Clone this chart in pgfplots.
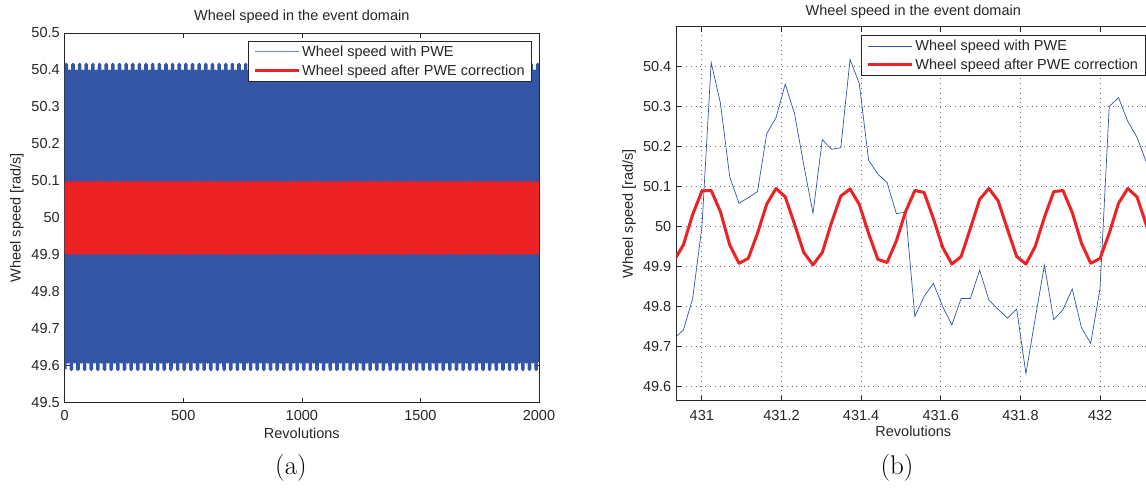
\documentclass[border=0pt]{standalone}
\usepackage{pgfplots}
\pgfplotsset{compat=1.18}
\usepackage{pgfplotstable}
\usepackage{fontspec}
\newfontfamily\arial{Liberation Sans}

\definecolor{pweblue}{RGB}{52,84,165}
\definecolor{pwelight}{RGB}{100,135,210}
\definecolor{corrred}{RGB}{236,34,36}
\definecolor{txt}{RGB}{38,38,38}

% Full run: the wheel speed swings between its extremes every few revolutions
% (x = revolutions, pwe = measured speed, corr = speed after PWE correction)
\pgfplotstableread[row sep=\\]{
x pwe corr\\
0 49.59 49.904\\ 7 50.415 50.096\\ 14 49.61 49.904\\ 21 50.397 50.096\\
28 49.59 49.904\\ 35 50.415 50.096\\ 42 49.61 49.904\\ 49 50.397 50.096\\
56 49.59 49.904\\ 63 50.415 50.096\\ 70 49.61 49.904\\ 77 50.397 50.096\\
84 49.59 49.904\\ 91 50.415 50.096\\ 98 49.61 49.904\\ 105 50.397 50.096\\
112 49.59 49.904\\ 119 50.415 50.096\\ 126 49.61 49.904\\ 133 50.397 50.096\\
140 49.59 49.904\\ 147 50.415 50.096\\ 154 49.61 49.904\\ 161 50.397 50.096\\
168 49.59 49.904\\ 175 50.415 50.096\\ 182 49.61 49.904\\ 189 50.397 50.096\\
196 49.59 49.904\\ 203 50.415 50.096\\ 210 49.61 49.904\\ 217 50.397 50.096\\
224 49.59 49.904\\ 231 50.415 50.096\\ 238 49.61 49.904\\ 245 50.397 50.096\\
252 49.59 49.904\\ 259 50.415 50.096\\ 266 49.61 49.904\\ 273 50.397 50.096\\
280 49.59 49.904\\ 287 50.415 50.096\\ 294 49.61 49.904\\ 301 50.397 50.096\\
308 49.59 49.904\\ 315 50.415 50.096\\ 322 49.61 49.904\\ 329 50.397 50.096\\
336 49.59 49.904\\ 343 50.415 50.096\\ 350 49.61 49.904\\ 357 50.397 50.096\\
364 49.59 49.904\\ 371 50.415 50.096\\ 378 49.61 49.904\\ 385 50.397 50.096\\
392 49.59 49.904\\ 399 50.415 50.096\\ 406 49.61 49.904\\ 413 50.397 50.096\\
420 49.59 49.904\\ 427 50.415 50.096\\ 434 49.61 49.904\\ 441 50.397 50.096\\
448 49.59 49.904\\ 455 50.415 50.096\\ 462 49.61 49.904\\ 469 50.397 50.096\\
476 49.59 49.904\\ 483 50.415 50.096\\ 490 49.61 49.904\\ 497 50.397 50.096\\
504 49.59 49.904\\ 511 50.415 50.096\\ 518 49.61 49.904\\ 525 50.397 50.096\\
532 49.59 49.904\\ 539 50.415 50.096\\ 546 49.61 49.904\\ 553 50.397 50.096\\
560 49.59 49.904\\ 567 50.415 50.096\\ 574 49.61 49.904\\ 581 50.397 50.096\\
588 49.59 49.904\\ 595 50.415 50.096\\ 602 49.61 49.904\\ 609 50.397 50.096\\
616 49.59 49.904\\ 623 50.415 50.096\\ 630 49.61 49.904\\ 637 50.397 50.096\\
644 49.59 49.904\\ 651 50.415 50.096\\ 658 49.61 49.904\\ 665 50.397 50.096\\
672 49.59 49.904\\ 679 50.415 50.096\\ 686 49.61 49.904\\ 693 50.397 50.096\\
700 49.59 49.904\\ 707 50.415 50.096\\ 714 49.61 49.904\\ 721 50.397 50.096\\
728 49.59 49.904\\ 735 50.415 50.096\\ 742 49.61 49.904\\ 749 50.397 50.096\\
756 49.59 49.904\\ 763 50.415 50.096\\ 770 49.61 49.904\\ 777 50.397 50.096\\
784 49.59 49.904\\ 791 50.415 50.096\\ 798 49.61 49.904\\ 805 50.397 50.096\\
812 49.59 49.904\\ 819 50.415 50.096\\ 826 49.61 49.904\\ 833 50.397 50.096\\
840 49.59 49.904\\ 847 50.415 50.096\\ 854 49.61 49.904\\ 861 50.397 50.096\\
868 49.59 49.904\\ 875 50.415 50.096\\ 882 49.61 49.904\\ 889 50.397 50.096\\
896 49.59 49.904\\ 903 50.415 50.096\\ 910 49.61 49.904\\ 917 50.397 50.096\\
924 49.59 49.904\\ 931 50.415 50.096\\ 938 49.61 49.904\\ 945 50.397 50.096\\
952 49.59 49.904\\ 959 50.415 50.096\\ 966 49.61 49.904\\ 973 50.397 50.096\\
980 49.59 49.904\\ 987 50.415 50.096\\ 994 49.61 49.904\\ 1001 50.397 50.096\\
1008 49.59 49.904\\ 1015 50.415 50.096\\ 1022 49.61 49.904\\ 1029 50.397 50.096\\
1036 49.59 49.904\\ 1043 50.415 50.096\\ 1050 49.61 49.904\\ 1057 50.397 50.096\\
1064 49.59 49.904\\ 1071 50.415 50.096\\ 1078 49.61 49.904\\ 1085 50.397 50.096\\
1092 49.59 49.904\\ 1099 50.415 50.096\\ 1106 49.61 49.904\\ 1113 50.397 50.096\\
1120 49.59 49.904\\ 1127 50.415 50.096\\ 1134 49.61 49.904\\ 1141 50.397 50.096\\
1148 49.59 49.904\\ 1155 50.415 50.096\\ 1162 49.61 49.904\\ 1169 50.397 50.096\\
1176 49.59 49.904\\ 1183 50.415 50.096\\ 1190 49.61 49.904\\ 1197 50.397 50.096\\
1204 49.59 49.904\\ 1211 50.415 50.096\\ 1218 49.61 49.904\\ 1225 50.397 50.096\\
1232 49.59 49.904\\ 1239 50.415 50.096\\ 1246 49.61 49.904\\ 1253 50.397 50.096\\
1260 49.59 49.904\\ 1267 50.415 50.096\\ 1274 49.61 49.904\\ 1281 50.397 50.096\\
1288 49.59 49.904\\ 1295 50.415 50.096\\ 1302 49.61 49.904\\ 1309 50.397 50.096\\
1316 49.59 49.904\\ 1323 50.415 50.096\\ 1330 49.61 49.904\\ 1337 50.397 50.096\\
1344 49.59 49.904\\ 1351 50.415 50.096\\ 1358 49.61 49.904\\ 1365 50.397 50.096\\
1372 49.59 49.904\\ 1379 50.415 50.096\\ 1386 49.61 49.904\\ 1393 50.397 50.096\\
1400 49.59 49.904\\ 1407 50.415 50.096\\ 1414 49.61 49.904\\ 1421 50.397 50.096\\
1428 49.59 49.904\\ 1435 50.415 50.096\\ 1442 49.61 49.904\\ 1449 50.397 50.096\\
1456 49.59 49.904\\ 1463 50.415 50.096\\ 1470 49.61 49.904\\ 1477 50.397 50.096\\
1484 49.59 49.904\\ 1491 50.415 50.096\\ 1498 49.61 49.904\\ 1505 50.397 50.096\\
1512 49.59 49.904\\ 1519 50.415 50.096\\ 1526 49.61 49.904\\ 1533 50.397 50.096\\
1540 49.59 49.904\\ 1547 50.415 50.096\\ 1554 49.61 49.904\\ 1561 50.397 50.096\\
1568 49.59 49.904\\ 1575 50.415 50.096\\ 1582 49.61 49.904\\ 1589 50.397 50.096\\
1596 49.59 49.904\\ 1603 50.415 50.096\\ 1610 49.61 49.904\\ 1617 50.397 50.096\\
1624 49.59 49.904\\ 1631 50.415 50.096\\ 1638 49.61 49.904\\ 1645 50.397 50.096\\
1652 49.59 49.904\\ 1659 50.415 50.096\\ 1666 49.61 49.904\\ 1673 50.397 50.096\\
1680 49.59 49.904\\ 1687 50.415 50.096\\ 1694 49.61 49.904\\ 1701 50.397 50.096\\
1708 49.59 49.904\\ 1715 50.415 50.096\\ 1722 49.61 49.904\\ 1729 50.397 50.096\\
1736 49.59 49.904\\ 1743 50.415 50.096\\ 1750 49.61 49.904\\ 1757 50.397 50.096\\
1764 49.59 49.904\\ 1771 50.415 50.096\\ 1778 49.61 49.904\\ 1785 50.397 50.096\\
1792 49.59 49.904\\ 1799 50.415 50.096\\ 1806 49.61 49.904\\ 1813 50.397 50.096\\
1820 49.59 49.904\\ 1827 50.415 50.096\\ 1834 49.61 49.904\\ 1841 50.397 50.096\\
1848 49.59 49.904\\ 1855 50.415 50.096\\ 1862 49.61 49.904\\ 1869 50.397 50.096\\
1876 49.59 49.904\\ 1883 50.415 50.096\\ 1890 49.61 49.904\\ 1897 50.397 50.096\\
1904 49.59 49.904\\ 1911 50.415 50.096\\ 1918 49.61 49.904\\ 1925 50.397 50.096\\
1932 49.59 49.904\\ 1939 50.415 50.096\\ 1946 49.61 49.904\\ 1953 50.397 50.096\\
1960 49.59 49.904\\ 1967 50.415 50.096\\ 1974 49.61 49.904\\ 1981 50.397 50.096\\
1988 49.59 49.904\\ 1995 50.415 50.096\\ 2000 49.61 49.904\\
}\fullrun

% Close-up of about one revolution, one row per sample
\pgfplotstableread[row sep=\\]{
x pwe corr\\
430.9306 49.720 49.915\\
430.9538 49.741 49.954\\
430.9771 49.820 50.030\\
431.0004 50.000 50.089\\
431.0236 50.410 50.090\\
431.0468 50.308 50.037\\
431.0701 50.124 49.954\\
431.0933 50.058 49.908\\
431.1166 50.072 49.920\\
431.1398 50.087 49.983\\
431.1630 50.232 50.056\\
431.1863 50.272 50.095\\
431.2095 50.356 50.074\\
431.2328 50.282 50.006\\
431.2560 50.154 49.935\\
431.2792 50.033 49.904\\
431.3025 50.217 49.935\\
431.3257 50.193 50.010\\
431.3490 50.197 50.076\\
431.3722 50.418 50.094\\
431.3954 50.357 50.055\\
431.4187 50.166 49.983\\
431.4419 50.131 49.918\\
431.4652 50.110 49.910\\
431.4884 50.032 49.964\\
431.5116 50.036 50.037\\
431.5349 49.775 50.090\\
431.5581 49.825 50.085\\
431.5814 49.858 50.020\\
431.6046 49.800 49.948\\
431.6278 49.754 49.906\\
431.6511 49.820 49.925\\
431.6743 49.820 49.995\\
431.6976 49.891 50.068\\
431.7208 49.816 50.095\\
431.7440 49.793 50.064\\
431.7673 49.771 49.993\\
431.7905 49.794 49.925\\
431.8138 49.632 49.906\\
431.8370 49.770 49.950\\
431.8602 49.903 50.023\\
431.8835 49.767 50.087\\
431.9067 49.792 50.090\\
431.9300 49.844 50.035\\
431.9532 49.747 49.958\\
431.9764 49.708 49.908\\
431.9997 49.844 49.920\\
432.0229 50.300 49.983\\
432.0462 50.322 50.058\\
432.0694 50.263 50.095\\
432.0926 50.223 50.074\\
432.1159 50.161 50.004\\
432.1391 50.090 49.935\\
}\closeup

\pgfplotsset{
  matlabaxis/.style={
    scale only axis,
    anchor=south west,
    axis line style={line width=0.8pt, txt},
    tick align=inside,
    major tick length=5pt,
    tick style={line width=0.6pt, txt},
    scaled ticks=false,
    /pgf/number format/assume math mode=true,
    /pgf/number format/set thousands separator={},
    tick label style={font=\arial\fontsize{14.5}{17}\selectfont, text=txt},
    xticklabel style={yshift=-4pt},
    yticklabel style={xshift=-1.5pt},
    label style={font=\arial\fontsize{14.5}{17}\selectfont, text=txt},
    title style={font=\arial\fontsize{14.5}{17}\selectfont, text=txt, at={(0.5,1)}, anchor=base},
    xlabel style={at={(0.5,0)}, anchor=base, yshift=-35.7pt},
    legend cell align=left,
    legend image code/.code={\draw[##1] (0pt,0pt) -- (44pt,0pt);},
    legend style={font=\arial\fontsize{14.5}{17}\selectfont, text=txt,
      draw=txt, line width=0.8pt, fill=white,
      at={(1,1)}, anchor=north east,
      inner xsep=5pt, inner ysep=2.5pt, row sep=3pt},
  },
}

\begin{document}
\begin{tikzpicture}
\useasboundingbox (0pt,0pt) rectangle (1146pt,495pt);

% (a) the whole run
\begin{axis}[matlabaxis,
  at={(64.7pt,92.3pt)}, width=474.3pt, height=369.7pt,
  xmin=0, xmax=2000, ymin=49.5, ymax=50.5,
  xtick={0,500,1000,1500,2000},
  ytick={49.5,49.6,49.7,49.8,49.9,50,50.1,50.2,50.3,50.4,50.5},
  title={Wheel speed in the event domain},
  title style={yshift=6.5pt},
  xlabel={Revolutions},
  ylabel={Wheel speed [rad/s]},
  ylabel style={at={(-0.1006,0.5)}, anchor=center},
  legend style={xshift=-7pt, yshift=-7.7pt},
]
\addplot[forget plot, pweblue, line width=3.6pt, line join=round] table[x=x, y=pwe] {\fullrun};
\addplot[forget plot, corrred, line width=3.6pt, line join=round] table[x=x, y=corr] {\fullrun};
\addlegendimage{draw=pwelight, line width=1pt}
\addlegendentry{Wheel speed with PWE}
\addlegendimage{draw=corrred, line width=3.2pt}
\addlegendentry{Wheel speed after PWE correction}
\end{axis}

% (b) close-up around revolution 431
\begin{axis}[matlabaxis,
  at={(676.3pt,94.3pt)}, width=474pt, height=374pt,
  xmin=430.936, xmax=432.126, ymin=49.5645, ymax=50.4995,
  xtick={431,431.2,431.4,431.6,431.8,432},
  xticklabels={431,431.2,431.4,431.6,431.8,432},
  ytick={49.6,49.7,49.8,49.9,50,50.1,50.2,50.3,50.4},
  xticklabel style={yshift=-2pt},
  grid=major,
  major grid style={line width=0.6pt, dash pattern=on 0.6pt off 4.2pt, black!55},
  title={Wheel speed in the event domain},
  title style={yshift=5pt},
  xlabel={Revolutions},
  ylabel={Wheel speed [rad/s]},
  ylabel style={at={(-0.0998,0.5)}, anchor=center},
  legend style={xshift=-5pt, yshift=-8.3pt},
]
\addplot[pweblue, line width=0.7pt] table[x=x, y=pwe] {\closeup};
\addlegendentry{Wheel speed with PWE}
\addplot[corrred, line width=3pt, line join=round] table[x=x, y=corr] {\closeup};
\addlegendentry{Wheel speed after PWE correction}
\end{axis}

\node[anchor=base, font=\fontsize{27}{32}\selectfont] at (291pt,20pt) {(a)};
\node[anchor=base, font=\fontsize{27}{32}\selectfont] at (897pt,20pt) {(b)};
\end{tikzpicture}
\end{document}
